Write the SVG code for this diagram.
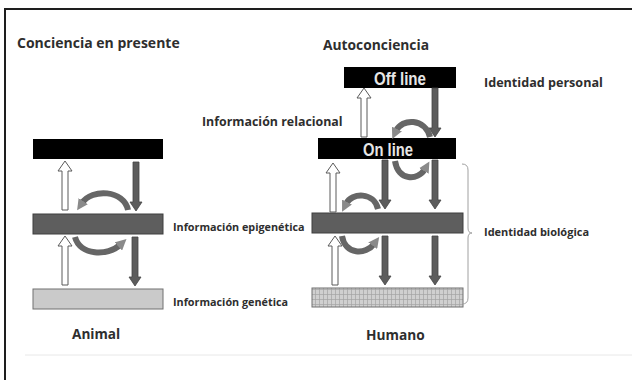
<svg xmlns="http://www.w3.org/2000/svg" width="632" height="380" viewBox="0 0 632 380">
<style>
.t{font-family:"Open Sans","Liberation Sans",sans-serif;font-weight:bold;fill:#2e2e2e}
.bk{fill:#000}
.epi{fill:#5e5e5e;stroke:#3e3e3e;stroke-width:1}
.gen{fill:#cacaca;stroke:#707070;stroke-width:1}
.up{fill:#fff;stroke:#5a5a5a;stroke-width:1}
.dn{fill:#5c5c5c;stroke:#444;stroke-width:0.8}
.cv{fill:none;stroke:#666;stroke-width:6;marker-end:url(#ch)}
.bt{font-family:"Liberation Sans","Open Sans",sans-serif;font-weight:bold;fill:#e6e6e6;font-size:18.5px}
</style>
<defs>
<marker id="ch" viewBox="0 0 10 10" refX="2" refY="5" markerUnits="userSpaceOnUse" markerWidth="11" markerHeight="11" orient="auto">
<path d="M0,0 L10,5 L0,10 z" fill="#8a8a8a"/>
</marker>
<path id="dnA" d="M-3,0 H3 V40 H6 L0,49 L-6,40 H-3 Z"/>
<path id="upA" d="M-3,0 V-39 H-7 L0,-49 L7,-39 H3 V0 Z"/>
<pattern id="grid" width="4" height="5" patternUnits="userSpaceOnUse">
<rect width="4" height="5" fill="#d0d0d0"/>
<path d="M3.5,0 V5 M0,4.5 H4" stroke="#a4a4a4" stroke-width="0.7"/>
</pattern>
</defs>
<rect x="0" y="0" width="632" height="380" fill="#fff"/>
<rect x="5" y="9" width="700" height="500" fill="none" stroke="#1e1e1e" stroke-width="2"/>
<line x1="25" y1="355" x2="632" y2="355" stroke="#e8e8e8" stroke-width="1"/>

<g id="titles">
<text class="t" x="17" y="48" font-size="14">Conciencia en presente</text>
<text class="t" x="323" y="50" font-size="13.8">Autoconciencia</text>
<text class="t" x="72" y="339" font-size="13.6">Animal</text>
<text class="t" x="366" y="340" font-size="13.7">Humano</text>
</g>

<g id="labels">
<text class="t" x="202" y="126" font-size="12.4">Información relacional</text>
<text class="t" x="484" y="87" font-size="12.6">Identidad personal</text>
<text class="t" x="484" y="236" font-size="11">Identidad biológica</text>
<text class="t" x="173" y="231" font-size="10.8">Información epigenética</text>
<text class="t" x="173" y="306" font-size="10.8">Información genética</text>
</g>

<g id="animal-top"><rect class="bk" x="33" y="139" width="130" height="20"/></g>
<g id="animal-epi"><rect class="epi" x="33" y="214" width="130" height="20"/></g>
<g id="animal-gen"><rect class="gen" x="33" y="289" width="130" height="20"/></g>

<g id="offline"><rect class="bk" x="344" y="67" width="112" height="21"/>
<text class="bt" x="400" y="84.5" text-anchor="middle" textLength="52" lengthAdjust="spacingAndGlyphs">Off line</text></g>
<g id="online"><rect class="bk" x="318" y="138" width="138" height="21"/>
<text class="bt" x="388" y="155.5" text-anchor="middle" textLength="50" lengthAdjust="spacingAndGlyphs">On line</text></g>
<g id="human-epi"><rect class="epi" x="312" y="213" width="151" height="20"/></g>
<g id="human-gen"><rect x="312" y="288" width="151" height="19" fill="url(#grid)" stroke="#707070" stroke-width="1"/></g>

<g id="connectors">
<use href="#upA" class="up" x="65" y="210"/>
<use href="#dnA" class="dn" x="136" y="162"/>
<use href="#upA" class="up" x="65" y="285"/>
<use href="#dnA" class="dn" x="135" y="237"/>
<path class="cv" d="M128,210 C124,190 92,188 82,203"/>
<path class="cv" d="M75,237 C80,256 108,256 120,245"/>

<use href="#upA" class="up" x="364" y="137"/>
<use href="#dnA" class="dn" x="435" y="88"/>
<path class="cv" d="M430,137 C425,118 402,118 396,131"/>

<use href="#upA" class="up" x="333" y="212"/>
<use href="#dnA" class="dn" x="385" y="160"/>
<use href="#dnA" class="dn" x="435" y="160"/>
<path class="cv" d="M395,161 C398,181 418,181 425,169"/>
<path class="cv" d="M378,209 C374,192 352,192 346,204"/>

<use href="#upA" class="up" x="335" y="285"/>
<use href="#dnA" class="dn" x="385" y="236"/>
<use href="#dnA" class="dn" x="435" y="236"/>
<path class="cv" d="M342,236 C345,255 366,255 374,244"/>

<path d="M462,164 Q468,164 468,170 V228 Q468,233 472,233 Q468,233 468,238 V298 Q468,304 462,304" fill="none" stroke="#a0a0a0" stroke-width="1"/>
</g>
</svg>
